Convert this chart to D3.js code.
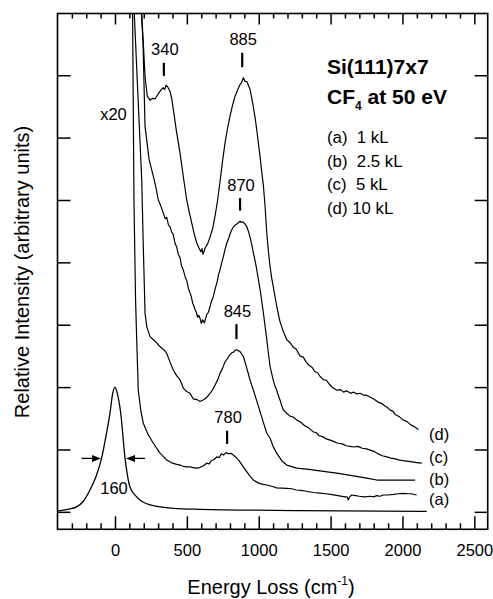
<!DOCTYPE html>
<html><head><meta charset="utf-8">
<script src="https://cdn.jsdelivr.net/npm/d3@7"></script>
<style>
body{margin:0;background:#fff}
svg text{font-family:"Liberation Sans",Arial,Helvetica,sans-serif;fill:#000}
</style>
</head><body><svg id="c" width="493" height="599"></svg>
<script>
// ---------- data ----------
const xMajorTicks = [0, 500, 1000, 1500, 2000, 2500];
const xMinorTicks = d3.range(-300, 2600, 100).filter(v => v % 500 !== 0);
const yTicks = [0, 1, 2, 3, 4, 5, 6, 7];

const energyElastic = [-400,-330,-267,-220,-174,-130,-93,-60,-35,-16,0,16,40,70,104,151,244,406,591,1287,2169];
const intensityElastic = [0.01,0.04,0.08,0.17,0.35,0.58,0.86,1.25,1.58,1.90,2.00,1.90,1.58,0.86,0.40,0.24,0.11,0.055,0.04,0.02,0.006];

const energyA = [122,132,143,151,162,180,197,230,267,310,360,400,430,452,475,500,522,545,568,590,615,638,655,670,690,708,725,740,755,772,790,805,823,840,860,893,930,962,1000,1030,1056,1090,1125,1160,1195,1230,1260,1295,1330,1380,1427,1465,1500,1550,1600,1615,1623,1632,1647,1675,1700,1740,1774,1800,1820,1845,1867,1900,1940,1970,2006,2035,2060,2099];
const intensityA = [8.1,5.0,3.41,2.76,1.95,1.62,1.42,1.24,1.10,0.95,0.83,0.78,0.76,0.75,0.73,0.72,0.72,0.71,0.70,0.71,0.74,0.78,0.77,0.82,0.84,0.88,0.87,0.93,0.91,0.95,0.93,0.94,0.91,0.88,0.83,0.72,0.60,0.51,0.46,0.44,0.43,0.41,0.385,0.38,0.375,0.37,0.35,0.345,0.33,0.31,0.30,0.29,0.28,0.26,0.24,0.24,0.19,0.24,0.27,0.26,0.25,0.24,0.25,0.24,0.26,0.25,0.27,0.27,0.28,0.29,0.295,0.29,0.29,0.27];

const energyB = [132,186,197,209,221,244,267,290,313,340,360,383,406,430,452,476,499,522,545,570,592,620,640,661,680,700,715,731,748,765,780,800,812,825,835,847,860,870,893,915,940,970,998,1030,1056,1079,1100,1125,1160,1195,1264,1350,1450,1543,1650,1750,1821,1900,2000,2087];
const intensityB = [8.1,5.32,4.25,3.19,2.97,2.81,2.76,2.71,2.65,2.60,2.54,2.40,2.27,2.18,2.12,1.98,1.93,1.90,1.81,1.80,1.77,1.80,1.84,1.90,1.96,2.05,2.12,2.22,2.30,2.40,2.45,2.52,2.55,2.56,2.59,2.60,2.58,2.57,2.49,2.32,2.11,1.90,1.69,1.45,1.26,1.18,1.05,0.94,0.82,0.75,0.70,0.68,0.65,0.62,0.58,0.54,0.51,0.51,0.51,0.51];

const energyC = [181,195,209,237,267,285,301,318,336,350,360,372,383,395,405,418,429,440,452,463,475,488,500,511,522,532,540,548,557,566,575,583,592,600,610,622,638,650,660,672,684,697,710,720,731,743,755,767,778,790,800,812,824,837,850,860,870,880,889,903,917,928,940,952,963,975,985,997,1010,1021,1033,1045,1056,1067,1079,1090,1100,1112,1125,1137,1150,1160,1172,1195,1220,1240,1265,1290,1320,1345,1365,1381,1400,1420,1440,1470,1497,1520,1550,1580,1610,1635,1659,1690,1720,1750,1775,1800,1830,1860,1891,1920,1950,1980,2006,2040,2070,2100,2134];
const intensityC = [8.13,7.52,6.18,5.65,5.38,5.20,5.0,4.91,4.79,4.70,4.72,4.60,4.57,4.48,4.45,4.30,4.25,4.13,4.08,3.94,3.88,3.77,3.70,3.58,3.51,3.44,3.35,3.31,3.24,3.20,3.12,3.15,3.10,3.02,3.08,3.03,3.16,3.20,3.28,3.38,3.45,3.58,3.68,3.80,3.88,4.00,4.10,4.22,4.31,4.38,4.45,4.52,4.57,4.60,4.62,4.64,4.66,4.64,4.65,4.62,4.57,4.50,4.40,4.28,4.15,4.02,3.90,3.73,3.56,3.38,3.18,2.96,2.76,2.55,2.33,2.22,2.12,2.02,1.95,1.86,1.78,1.70,1.63,1.58,1.53,1.52,1.47,1.44,1.38,1.35,1.31,1.28,1.27,1.22,1.21,1.17,1.15,1.13,1.10,1.09,1.06,1.05,1.04,1.05,1.02,1.01,0.99,0.97,0.93,0.90,0.88,0.86,0.85,0.83,0.82,0.81,0.80,0.79,0.78];

const energyD = [174,186,197,209,225,244,262,278,295,313,325,336,345,355,370,383,395,406,429,452,475,499,517,534,552,569,583,597,605,612,620,627,645,662,680,696,714,731,748,766,783,800,818,835,852,870,880,893,905,917,928,940,950,962,974,986,997,1009,1020,1032,1044,1056,1067,1079,1090,1102,1125,1148,1170,1195,1215,1240,1260,1287,1310,1330,1350,1370,1390,1410,1427,1450,1470,1490,1515,1543,1570,1590,1610,1640,1660,1682,1705,1730,1750,1774,1800,1830,1855,1875,1891,1915,1935,1950,1975,2006,2030,2060,2080,2111];
const intensityD = [8.13,7.97,7.52,6.98,6.66,6.60,6.63,6.62,6.68,6.74,6.78,6.80,6.77,6.84,6.80,6.74,6.62,6.45,6.08,5.76,5.38,5.00,4.80,4.63,4.45,4.31,4.24,4.17,4.22,4.13,4.18,4.23,4.30,4.41,4.55,4.74,5.00,5.30,5.62,5.92,6.15,6.34,6.52,6.66,6.76,6.85,6.88,6.96,6.90,6.90,6.84,6.77,6.65,6.50,6.33,6.13,5.92,5.70,5.47,5.24,4.90,4.47,4.18,3.93,3.75,3.60,3.30,3.05,2.90,2.76,2.72,2.64,2.61,2.50,2.48,2.40,2.35,2.32,2.25,2.23,2.17,2.12,2.11,2.05,1.99,1.95,1.96,1.92,1.94,1.90,1.92,1.89,1.90,1.87,1.87,1.84,1.81,1.76,1.74,1.70,1.68,1.63,1.61,1.56,1.53,1.47,1.45,1.39,1.37,1.32];

const curveLabels = ["(a)", "(b)", "(c)", "(d)"];
const curveLabelY = [0.20, 0.52, 0.88, 1.25];
const legendLines = ["(a)  1 kL", "(b)  2.5 kL", "(c)  5 kL", "(d) 10 kL"];
const peakValues = [340, 885, 870, 845, 780];
const peakTickTop = [7.20, 7.36, 5.03, 3.01, 1.30];
const peakTickBottom = [6.99, 7.13, 4.83, 2.77, 1.09];
const fwhmValue = 160;
const fwhmHalf = 0.857;

// ---------- layout ----------
const L = 57.5, R = 487.7, T = 13.5, B = 529.3;
const svg = d3.select("#c");
const x = d3.scaleLinear().domain([-400, 2593]).range([L, R]);
const y = d3.scaleLinear().domain([-0.28, 7.99]).range([B, T]);

svg.append("defs").append("clipPath").attr("id", "clip")
  .append("rect").attr("x", L).attr("y", T).attr("width", R - L).attr("height", B - T);

function styleAxis(g){
  g.select(".domain").remove();
  g.selectAll(".tick line").attr("stroke", "#000").attr("stroke-width", 1.5);
  g.selectAll(".tick text").attr("font-size", 16.5).attr("fill", "#000");
}
// bottom
svg.append("g").attr("transform", `translate(0,${B})`)
  .call(d3.axisBottom(x).tickValues(xMajorTicks).tickSize(-13).tickPadding(15).tickFormat(d3.format("d")))
  .call(styleAxis);
svg.append("g").attr("transform", `translate(0,${B})`)
  .call(d3.axisBottom(x).tickValues(xMinorTicks).tickSize(-6).tickFormat(""))
  .call(styleAxis);
// top
svg.append("g").attr("transform", `translate(0,${T})`)
  .call(d3.axisTop(x).tickValues(xMajorTicks).tickSize(-11).tickFormat(""))
  .call(styleAxis);
svg.append("g").attr("transform", `translate(0,${T})`)
  .call(d3.axisTop(x).tickValues(xMinorTicks).tickSize(-5).tickFormat(""))
  .call(styleAxis);
// left/right
svg.append("g").attr("transform", `translate(${L},0)`)
  .call(d3.axisLeft(y).tickValues(yTicks).tickSize(-13).tickFormat(""))
  .call(styleAxis);
svg.append("g").attr("transform", `translate(${R},0)`)
  .call(d3.axisRight(y).tickValues(yTicks).tickSize(-13).tickFormat(""))
  .call(styleAxis);

// frame
svg.append("rect").attr("x", L).attr("y", T).attr("width", R - L).attr("height", B - T)
  .attr("fill", "none").attr("stroke", "#000").attr("stroke-width", 1.6);

// curves
const plot = svg.append("g").attr("clip-path", "url(#clip)");
const lineSmooth = d3.line().x(d => x(d[0])).y(d => y(d[1])).curve(d3.curveMonotoneX);
const lineRaw = d3.line().x(d => x(d[0])).y(d => y(d[1]));
const zip = (a, b) => a.map((v, i) => [v, b[i]]);

plot.append("path").datum(zip(energyElastic, intensityElastic)).attr("d", lineSmooth)
  .attr("fill", "none").attr("stroke", "#000").attr("stroke-width", 1.3);
[[energyA, intensityA], [energyB, intensityB], [energyC, intensityC], [energyD, intensityD]].forEach(([e, v]) => {
  plot.append("path").datum(zip(e, v)).attr("d", lineRaw)
    .attr("fill", "none").attr("stroke", "#000").attr("stroke-width", 1.2).attr("stroke-linejoin", "round");
});

// curve labels
curveLabels.forEach((t, i) => {
  svg.append("text").attr("x", 429).attr("y", y(curveLabelY[i]) + 6).attr("font-size", 16.5).text(t);
});

// peak labels + ticks
peakValues.forEach((p, i) => {
  const px = x(p);
  svg.append("line").attr("x1", px).attr("x2", px)
    .attr("y1", y(peakTickTop[i])).attr("y2", y(peakTickBottom[i]))
    .attr("stroke", "#000").attr("stroke-width", 2.2);
  svg.append("text").attr("x", px + 1).attr("y", y(peakTickTop[i]) - 7.5)
    .attr("text-anchor", "middle").attr("font-size", 16.5).text(p);
});

// x20
svg.append("text").attr("x", 113.5).attr("y", 119.5).attr("text-anchor", "middle").attr("font-size", 16.5).text("x20");

// FWHM arrows
const ay = y(fwhmHalf);
svg.append("line").attr("x1", 81.5).attr("x2", 94).attr("y1", ay).attr("y2", ay).attr("stroke", "#000").attr("stroke-width", 1.3);
svg.append("path").attr("d", `M101,${ay} L92,${ay-3.5} L92,${ay+3.5} Z`).attr("fill", "#000");
svg.append("line").attr("x1", 133).attr("x2", 145).attr("y1", ay).attr("y2", ay).attr("stroke", "#000").attr("stroke-width", 1.3);
svg.append("path").attr("d", `M126,${ay} L135,${ay-3.5} L135,${ay+3.5} Z`).attr("fill", "#000");
svg.append("text").attr("x", 114).attr("y", 493.5).attr("text-anchor", "middle").attr("font-size", 16.5).text(fwhmValue);

// title
svg.append("text").attr("x", 327).attr("y", 73.5).attr("font-size", 21).attr("font-weight", "bold").text("Si(111)7x7");
const t2 = svg.append("text").attr("x", 327).attr("y", 104).attr("font-size", 21).attr("font-weight", "bold");
t2.append("tspan").text("CF");
t2.append("tspan").attr("font-size", 12).attr("dy", 6).text("4");
t2.append("tspan").attr("dy", -6).text(" at 50 eV");

legendLines.forEach((t, i) => {
  svg.append("text").attr("x", 327).attr("y", 143 + i * 23.5).attr("font-size", 16.8)
    .attr("xml:space", "preserve").style("white-space", "pre").text(t);
});

// axis titles
const xt = svg.append("text").attr("x", 271).attr("y", 594).attr("text-anchor", "middle").attr("font-size", 20);
xt.append("tspan").text("Energy Loss (cm");
xt.append("tspan").attr("font-size", 12).attr("dy", -9).text("-1");
xt.append("tspan").attr("dy", 9).text(")");

svg.append("text").attr("transform", "translate(29,272) rotate(-90)").attr("text-anchor", "middle")
  .attr("font-size", 20).text("Relative Intensity (arbitrary units)");
</script></body></html>
